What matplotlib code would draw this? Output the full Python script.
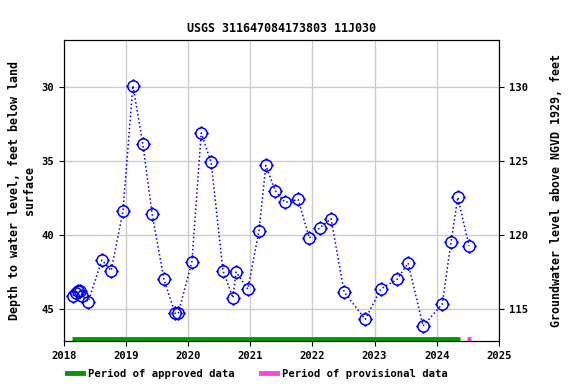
import matplotlib
matplotlib.use("Agg")
import matplotlib.pyplot as plt
from matplotlib.path import Path

# decimal years and depth below land surface (ft)
years = [2018.14, 2018.19, 2018.23, 2018.26, 2018.29, 2018.39, 2018.61, 2018.76,
         2018.95, 2019.11, 2019.27, 2019.42, 2019.61, 2019.79, 2019.84, 2020.06,
         2020.21, 2020.37, 2020.56, 2020.72, 2020.77, 2020.96, 2021.14, 2021.25,
         2021.40, 2021.56, 2021.77, 2021.95, 2022.12, 2022.30, 2022.51, 2022.85,
         2023.10, 2023.36, 2023.54, 2023.78, 2024.09, 2024.23, 2024.34, 2024.52]
depth = [44.1, 43.9, 43.8, 43.8, 44.1, 44.5, 41.7, 42.4,
         38.4, 29.9, 33.85, 38.6, 43.0, 45.3, 45.3, 41.8,
         33.1, 35.1, 42.4, 44.25, 42.5, 43.65, 39.7, 35.3,
         37.0, 37.8, 37.6, 40.2, 39.5, 38.9, 43.85, 45.7,
         43.65, 43.0, 41.9, 46.15, 44.66, 40.5, 37.45, 40.75]
approved = [2018.13, 2024.37]
provisional = [2024.49, 2024.55]
datum = 160.0

plt.rcParams["font.family"] = "DejaVu Sans Mono"
plt.rcParams["font.weight"] = "bold"

# circle with four little ticks outside
ticks = Path([(0, 1), (0, 1.3), (0, -1), (0, -1.3), (1, 0), (1.3, 0), (-1, 0), (-1.3, 0)],
             [Path.MOVETO, Path.LINETO] * 4)
sym = Path.make_compound_path(Path.unit_circle(), ticks)

fig = plt.figure(figsize=(5.76, 3.84), dpi=100)
ax = fig.add_axes([0.111, 0.112, 0.755, 0.784])

ax.plot(years, depth, color="blue", linestyle=":", linewidth=1.1)
ax.plot(years, depth, linestyle="none", marker=sym, markersize=10.5, markerfacecolor="none",
        markeredgecolor="blue", markeredgewidth=1.1)

ax.plot(approved, [47.0, 47.0], color="#009900", linewidth=3.5, solid_capstyle="butt")
ax.plot(provisional, [47.0, 47.0], color="#ff44dd", linewidth=3.5, solid_capstyle="butt")

ax.set_xlim(2018, 2025)
ax.set_ylim(47.16, 26.82)
ax.set_xticks(range(2018, 2026))
ax.set_xticklabels([str(y) for y in range(2018, 2026)])
ax.set_yticks([30, 35, 40, 45])
ax.grid(True, color="#cccccc", linewidth=1)
ax.set_axisbelow(True)
ax.tick_params(labelsize=7.6, direction="out")
ax.set_ylabel("Depth to water level, feet below land\nsurface", fontsize=8.4, fontweight="bold")
ax.set_title("USGS 311647084173803 11J030", fontsize=8.4, fontweight="bold")

ax2 = ax.twinx()
ax2.set_ylim(datum - 47.16, datum - 26.82)
ax2.set_yticks([115, 120, 125, 130])
ax2.tick_params(labelsize=7.6)
ax2.set_ylabel("Groundwater level above NGVD 1929, feet", fontsize=8.4, fontweight="bold", labelpad=16)

h1, = ax.plot([], [], color="#009900", linewidth=3.5)
h2, = ax.plot([], [], color="#ff44dd", linewidth=3.5)
fig.legend([h1, h2], ["Period of approved data", "Period of provisional data"],
           loc="lower center", ncol=2, frameon=False, fontsize=7.6,
           bbox_to_anchor=(0.447, -0.012), handlelength=1.5, handletextpad=0.5,
           columnspacing=2.5)

fig.savefig("out.png", dpi=100)
